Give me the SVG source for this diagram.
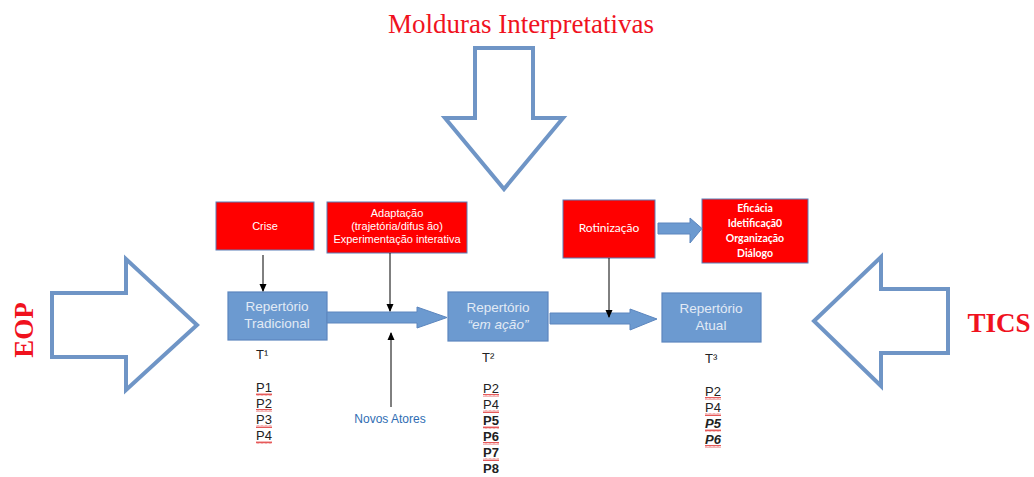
<svg xmlns="http://www.w3.org/2000/svg" width="1034" height="477" viewBox="0 0 1034 477">
<defs>
<style>
.big{fill:none;stroke:#6F95C6;stroke-width:4;stroke-linejoin:miter}
.red{fill:#FF0000;stroke:#5A7FB8;stroke-width:1}
.rep{fill:#6C9AD0;stroke:#5C86BE;stroke-width:1.2}
.flow{fill:#6C9AD0;stroke:#5C86BE;stroke-width:1}
.ln{stroke:#000;stroke-width:1;fill:none}
.title{font-family:"Liberation Serif",serif;fill:#F0121E}
.wt{font-family:"Liberation Sans",Arial,sans-serif;fill:#fff;font-size:11px;text-anchor:middle}
.cw{font-family:Lato,"Liberation Sans",sans-serif;fill:#fff;text-anchor:middle}
.rt{font-family:"Liberation Sans",Arial,sans-serif;fill:#E2EAF5;font-size:13.5px;text-anchor:middle}
.p{font-family:"Liberation Sans",Arial,sans-serif;fill:#222;font-size:13px}
.b{font-weight:bold}
</style>
<pattern id="wave" x="0" y="0" width="4" height="3" patternUnits="userSpaceOnUse">
<path d="M0,2.5 L1,0.5 L2,2.5 L3,0.5 L4,2.5" fill="none" stroke="#E03030" stroke-width="0.8"/>
</pattern>
<marker id="ah" markerWidth="8" markerHeight="8" refX="7" refY="4" orient="auto" markerUnits="userSpaceOnUse">
<path d="M0,0.5 L8,4 L0,7.5 z" fill="#000"/>
</marker>
</defs>
<rect width="1034" height="477" fill="#fff"/>

<g id="molduras">
<text class="title" x="521" y="33" font-size="27" text-anchor="middle">Molduras Interpretativas</text>
<path class="big" d="M475,48 L533,48 L533,118 L563,118 L504,189 L445,118 L475,118 Z"/>
</g>

<g id="eop">
<path class="big" d="M52,293 L126,293 L126,259 L197,325 L126,390 L126,357 L52,357 Z"/>
<text class="title b" transform="translate(33,330) rotate(-90)" font-size="27" text-anchor="middle">EOP</text>
</g>

<g id="tics">
<path class="big" d="M948,289 L881,289 L881,257 L814,321 L881,386 L881,353 L948,353 Z"/>
<text class="title b" x="999" y="332" font-size="27" text-anchor="middle">TICS</text>
</g>

<g id="crise">
<rect class="red" x="216" y="202" width="98" height="48"/>
<text class="wt" x="265" y="230" font-size="12">Crise</text>
</g>

<g id="adaptacao">
<rect class="red" x="327" y="202" width="140" height="51"/>
<text class="wt" x="397" y="217">Adaptação</text>
<text class="wt" x="397" y="230">(trajetória/difus ão)</text>
<text class="wt" x="397" y="243">Experimentação interativa</text>
</g>

<g id="rotinizacao">
<rect class="red" x="563" y="200" width="92" height="58"/>
<text class="cw" x="609" y="232" font-size="12">Rotinização</text>
</g>

<g id="eficacia">
<rect class="red" x="702" y="199" width="106" height="64"/>
<text class="cw b" x="755" y="212" font-size="10.5">Eficácia</text>
<text class="cw b" x="755" y="227" font-size="10.5">Idetificaçã0</text>
<text class="cw b" x="755" y="242" font-size="10.5">Organização</text>
<text class="cw b" x="755" y="257" font-size="10.5">Diálogo</text>
</g>

<g id="rep-tradicional">
<rect class="rep" x="228" y="292" width="99" height="48"/>
<text class="rt" x="277" y="311">Repertório</text>
<text class="rt" x="277" y="328">Tradicional</text>
</g>

<g id="rep-emacao">
<rect class="rep" x="448" y="292" width="100" height="49"/>
<text class="rt" x="498" y="312">Repertório</text>
<text class="rt" x="498" y="329" font-style="italic">“em ação”</text>
</g>

<g id="rep-atual">
<rect class="rep" x="662" y="293" width="99" height="49"/>
<text class="rt" x="711" y="313">Repertório</text>
<text class="rt" x="711" y="330">Atual</text>
</g>

<g id="novos-atores">
<text x="390" y="423" font-family="'Liberation Sans',Arial,sans-serif" font-size="12" fill="#2F6DB3" text-anchor="middle">Novos Atores</text>
</g>

<g id="t1">
<text class="p" x="256" y="359">T¹</text>
<text class="p" x="256" y="392">P1</text>
<text class="p" x="256" y="408">P2</text>
<text class="p" x="256" y="424">P3</text>
<text class="p" x="256" y="440">P4</text>
<rect x="256" y="393" width="16" height="3" fill="url(#wave)"/>
<rect x="256" y="409" width="16" height="3" fill="url(#wave)"/>
<rect x="256" y="425" width="16" height="3" fill="url(#wave)"/>
<rect x="256" y="441" width="16" height="3" fill="url(#wave)"/>
</g>

<g id="t2">
<text class="p" x="482" y="362">T²</text>
<text class="p" x="483" y="393">P2</text>
<text class="p" x="483" y="409">P4</text>
<text class="p b" x="483" y="425">P5</text>
<text class="p b" x="483" y="441">P6</text>
<text class="p b" x="483" y="457">P7</text>
<text class="p b" x="483" y="473">P8</text>
<rect x="483" y="394" width="16" height="3" fill="url(#wave)"/>
<rect x="483" y="410" width="16" height="3" fill="url(#wave)"/>
<rect x="483" y="426" width="16" height="3" fill="url(#wave)"/>
<rect x="483" y="442" width="16" height="3" fill="url(#wave)"/>
<rect x="483" y="458" width="16" height="3" fill="url(#wave)"/>
</g>

<g id="t3">
<text class="p" x="705" y="363">T³</text>
<text class="p" x="705" y="396">P2</text>
<text class="p" x="705" y="412">P4</text>
<text class="p b" x="705" y="428" font-style="italic">P5</text>
<text class="p b" x="705" y="444" font-style="italic">P6</text>
<rect x="705" y="397" width="16" height="3" fill="url(#wave)"/>
<rect x="705" y="413" width="16" height="3" fill="url(#wave)"/>
<rect x="705" y="429" width="16" height="3" fill="url(#wave)"/>
<rect x="705" y="445" width="16" height="3" fill="url(#wave)"/>
</g>

<g id="connectors">
<path class="flow" d="M327,312 L417,312 L417,307 L447,317.5 L417,328 L417,323 L327,323 Z"/>
<path class="flow" d="M550,313 L630,313 L630,309 L657,319 L630,330 L630,324 L550,324 Z"/>
<path class="flow" d="M658,223 L690,223 L690,218 L702,228.5 L690,243 L690,234 L658,234 Z"/>
<line class="ln" x1="263" y1="255" x2="263" y2="291" marker-end="url(#ah)"/>
<line class="ln" x1="390" y1="253" x2="390" y2="311" marker-end="url(#ah)"/>
<line class="ln" x1="609" y1="258" x2="609" y2="317" marker-end="url(#ah)"/>
<line class="ln" x1="391" y1="407" x2="391" y2="333" marker-end="url(#ah)"/>
</g>
</svg>
